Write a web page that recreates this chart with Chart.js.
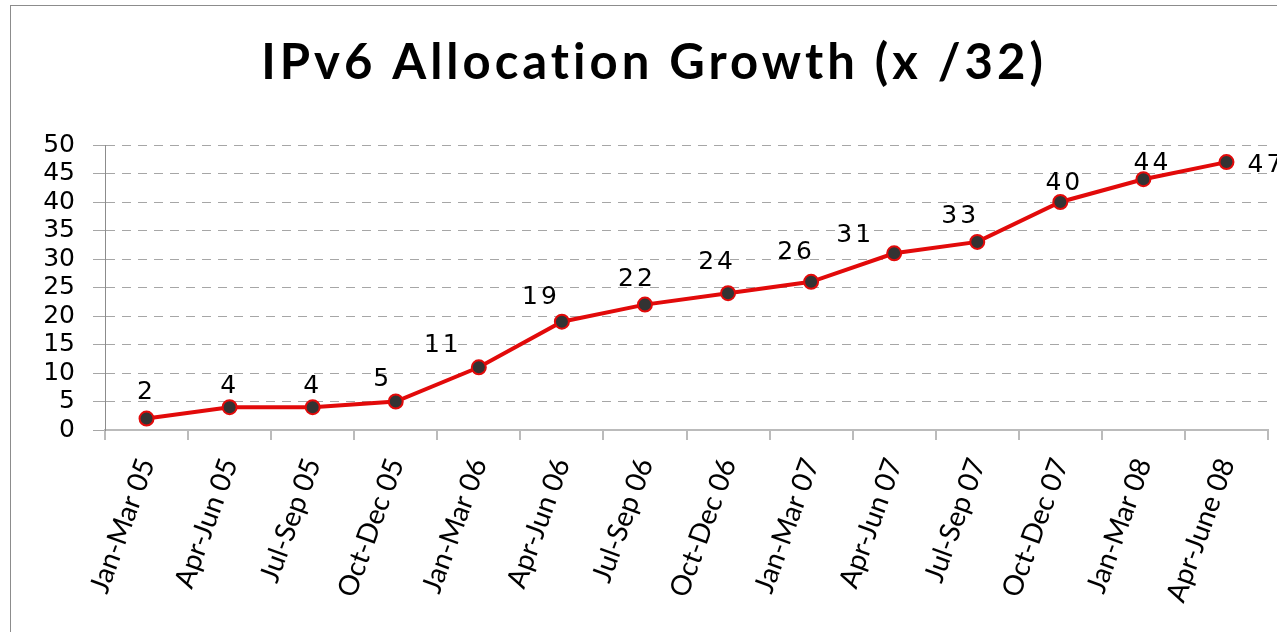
<!DOCTYPE html>
<html>
<head>
<meta charset="utf-8">
<script src="https://cdn.jsdelivr.net/npm/chart.js@4"></script>
<style>
  html, body { margin: 0; padding: 0; background: #fff; }
  #wrap { width: 1277px; height: 632px; }
</style>
</head>
<body>
<div id="wrap"><canvas id="allocChart" width="1277" height="632"></canvas></div>
<script>
const chartTitle = "IPv6 Allocation Growth (x /32)";

const quarters = [
  "Jan-Mar 05", "Apr-Jun 05", "Jul-Sep 05", "Oct-Dec 05",
  "Jan-Mar 06", "Apr-Jun 06", "Jul-Sep 06", "Oct-Dec 06",
  "Jan-Mar 07", "Apr-Jun 07", "Jul-Sep 07", "Oct-Dec 07",
  "Jan-Mar 08", "Apr-June 08"
];

const allocations = [2, 4, 4, 5, 11, 19, 22, 24, 26, 31, 33, 40, 44, 47];

const yMin = 0;
const yMax = 50;
const yStep = 5;

// where each value label sits relative to its point (dx, dy in px)
const labelNudge = [
  [0, -26], [0, -21], [0, -21], [-13, -22], [-36, -22], [-21, -24], [-8, -25],
  [-11, -31], [-15, -29], [-39, -18], [-17, -25], [4, -19], [9, -16], [40, 3]
];

const frameAndLabels = {
  id: "frameAndLabels",
  beforeDraw(chart) {
    const ctx = chart.ctx;
    ctx.save();
    ctx.strokeStyle = "#8c8c8c";
    ctx.lineWidth = 1;
    ctx.strokeRect(10.5, 5.5, 1400, 800);
    ctx.restore();
  },
  afterDraw(chart) {
    const ctx = chart.ctx;
    ctx.save();
    ctx.fillStyle = "#000";
    ctx.textAlign = "center";
    ctx.textBaseline = "middle";
    ctx.letterSpacing = "4px";
    ctx.font = "bold 49px Lato";
    ctx.fillText(chartTitle, 654, 63);

    ctx.letterSpacing = "3px";
    ctx.font = "25px 'DejaVu Sans'";
    const meta = chart.getDatasetMeta(0);
    meta.data.forEach((pt, i) => {
      const [dx, dy] = labelNudge[i];
      ctx.fillText(String(allocations[i]), pt.x + dx, pt.y + dy);
    });
    ctx.restore();
  }
};

function initChart() {
  const ctx = document.getElementById("allocChart").getContext("2d");
  new Chart(ctx, {
    type: "line",
    data: {
      labels: quarters,
      datasets: [
        {
          label: "Allocations",
          data: allocations,
          borderColor: "#e20a0a",
          borderWidth: 4,
          backgroundColor: "#333333",
          pointBackgroundColor: "#333333",
          pointBorderColor: "#e20a0a",
          pointBorderWidth: 2,
          pointRadius: 7,
          tension: 0,
          clip: false
        }
      ]
    },
    options: {
      responsive: false,
      animation: false,
      layout: { padding: { left: 10, right: 9, top: 145, bottom: 0 } },
      plugins: {
        legend: { display: false },
        title: { display: false },
        tooltip: { enabled: false }
      },
      scales: {
        x: {
          offset: true,
          grid: {
            offset: true,
            drawOnChartArea: false,
            drawTicks: true,
            tickLength: 10,
            color: "#bbbbbb",
            lineWidth: 2
          },
          border: { color: "#bbbbbb", width: 2 },
          ticks: {
            color: "#000",
            font: { family: "Lato", size: 28 },
            minRotation: 70,
            maxRotation: 70,
            autoSkip: false,
            padding: 14
          },
          afterFit(scale) { scale.height = 202; }
        },
        y: {
          min: yMin,
          max: yMax,
          grid: {
            color: "#a6a6a6",
            lineWidth: 1,
            tickLength: 12,
            tickColor: "#a6a6a6",
            tickBorderDash: []
          },
          border: { color: "#8c8c8c", width: 1, dash: [9, 7] },
          ticks: {
            stepSize: yStep,
            autoSkip: false,
            color: "#000",
            font: { family: "DejaVu Sans", size: 25 },
            padding: 18
          },
          afterFit(scale) { scale.width = 95; }
        }
      }
    },
    plugins: [frameAndLabels]
  });
}

document.addEventListener("DOMContentLoaded", () => {
  initChart();
});
</script>
</body>
</html>
